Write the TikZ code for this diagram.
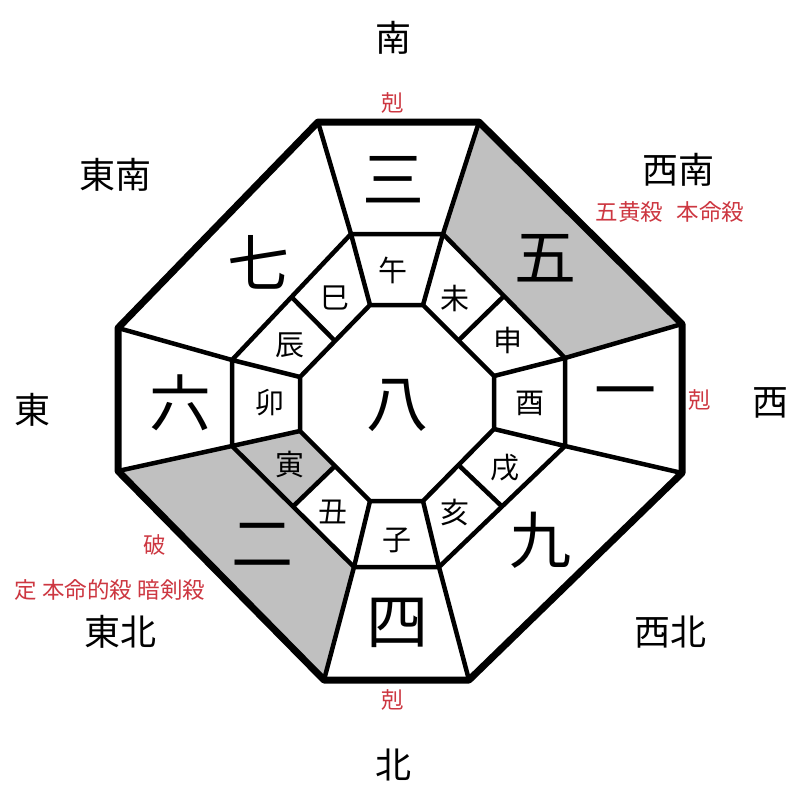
\documentclass[tikz,border=0pt]{standalone}
\usepackage{fontspec}
\setmainfont{Noto Sans CJK JP}
\usetikzlibrary{calc}
\definecolor{kokured}{RGB}{205,55,65}
\definecolor{kokugray}{RGB}{192,192,192}
\begin{document}
\begin{tikzpicture}[x=1pt,y=-1pt,
		ring/.style={line width=4.5pt,line join=round},
		rim/.style={line width=7pt,line join=round},
		star/.style={font=\fontsize{62}{62}\selectfont},
		eto/.style={font=\fontsize{29}{29}\selectfont},
		houi/.style={font=\fontsize{36}{36}\selectfont},
		note/.style={font=\fontsize{22.5}{22.5}\selectfont,text=kokured}]
			\useasboundingbox (0,0) rectangle (800,800);
			\fill[white] (0,0) rectangle (800,800);
			\foreach \p [count=\k] in {{318,122},{479,122},{682,324},{682,473},{469,680},{324,680},{118,471},{118,328}}
			\coordinate (o\k) at (\p);
			\foreach \p [count=\k] in {{351,234},{443,234},{565,358},{565,446},{439,567},{354,567},{232,446},{232,360}}
			\coordinate (m\k) at (\p);
			\foreach \p [count=\k] in {{370,305},{423,305},{494,376},{494,429},{423,501},{370,501},{300,431},{300,377}}
			\coordinate (i\k) at (\p);
			\fill[kokugray] (o2) -- (o3) -- (m3) -- (m2) -- cycle;
			\fill[kokugray] (o6) -- (o7) -- (m7) -- (m6) -- cycle;
			\fill[kokugray] (m7) -- (i7) -- ($(i6)!0.5!(i7)$) -- ($(m6)!0.5!(m7)$) -- cycle;
			\draw[ring] (m1) -- (m2) -- (m3) -- (m4) -- (m5) -- (m6) -- (m7) -- (m8) -- cycle;
			\draw[ring] (i1) -- (i2) -- (i3) -- (i4) -- (i5) -- (i6) -- (i7) -- (i8) -- cycle;
			\foreach \k in {1,...,8}
			\draw[ring] (o\k) -- (m\k) -- (i\k);
			\foreach \a/\b in {2/3,4/5,6/7,8/1}
			\draw[ring] ($(m\a)!0.5!(m\b)$) -- ($(i\a)!0.5!(i\b)$);
			\draw[rim] (o1) -- (o2) -- (o3) -- (o4) -- (o5) -- (o6) -- (o7) -- (o8) -- cycle;
			\foreach \n/\p/\t in {san/{393,180}/三,go/{545,258}/五,ichi/{625,400}/一,kyu/{540,540}/九,
				yon/{397,623}/四,ni/{262,545}/二,roku/{180,403}/六,nana/{258,262}/七,hachi/{397,405}/八}
			\node[star] (\n) at (\p) {\t};
			\foreach \n/\p/\t in {uma/{393,270}/午,hitsuji/{455,298}/未,saru/{508,340}/申,tori/{530,403}/酉,
				inu/{505,468}/戌,i/{455,512}/亥,ne/{397,540}/子,ushi/{333,512}/丑,tora/{290,465}/寅,
				u/{270,403}/卯,tatsu/{290,345}/辰,mi/{335,298}/巳}
			\node[eto] (\n) at (\p) {\t};
			\foreach \n/\p/\t in {minami/{393,38}/南,tounan/{115,175}/東南,seinan/{678,170}/西南,nishi/{770,403}/西,
				higashi/{32,410}/東,touhoku/{120,632}/東北,kita/{393,765}/北,seihoku/{670,632}/西北}
			\node[houi] (\n) at (\p) {\t};
			\node[note] (koku-s) at (393,103) {剋};
			\node[note] (koku-w) at (700,400) {剋};
			\node[note] (koku-n) at (393,700) {剋};
			\node[note] (gooh) at (670,212) {五黄殺\hspace{0.6em}本命殺};
			\node[note] (ha) at (155,545) {破};
			\node[note] (ankens) at (110,590) {定 本命的殺 暗剣殺};
		\end{tikzpicture}
\end{document}
